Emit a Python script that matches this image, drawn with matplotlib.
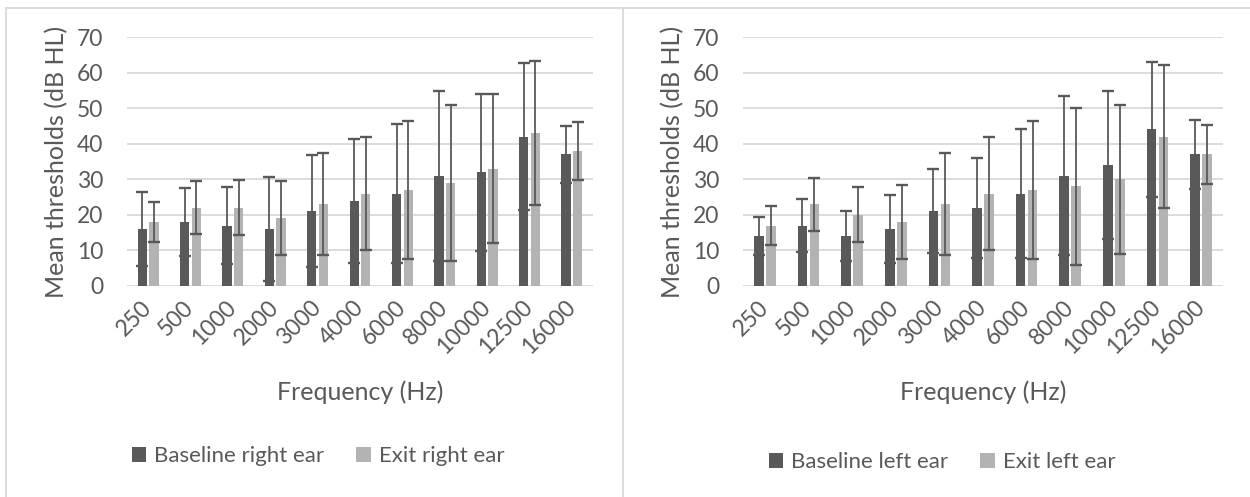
import matplotlib
matplotlib.use("Agg")
import matplotlib.pyplot as plt
import numpy as np
from matplotlib.lines import Line2D

plt.rcParams['font.family'] = ['Lato', 'DejaVu Sans']

freqs = ["250", "500", "1000", "2000", "3000", "4000", "6000", "8000", "10000", "12500", "16000"]

base_right = [16, 18, 17, 16, 21, 24, 26, 31, 32, 42, 37]
base_right_sd = [10.5, 9.5, 10.8, 14.6, 15.7, 17.4, 19.6, 23.9, 22.1, 20.6, 8.0]
exit_right = [18, 22, 22, 19, 23, 26, 27, 29, 33, 43, 38]
exit_right_sd = [5.7, 7.4, 7.8, 10.4, 14.3, 16.0, 19.5, 21.9, 21.0, 20.2, 8.2]

base_left = [14, 17, 14, 16, 21, 22, 26, 31, 34, 44, 37]
base_left_sd = [5.3, 7.5, 7.0, 9.6, 11.8, 14.0, 18.1, 22.4, 20.7, 19.1, 9.6]
exit_left = [17, 23, 20, 18, 23, 26, 27, 28, 30, 42, 37]
exit_left_sd = [5.6, 7.5, 7.7, 10.5, 14.3, 16.0, 19.5, 22.0, 21.0, 20.2, 8.2]

ylabel = "Mean thresholds (dB HL)"
xlabel = "Frequency (Hz)"

DARK = "#595959"
LIGHT = "#b3b3b3"
ERR = "#595959"
GRID = "#d9d9d9"
TXT = "#595959"

W, H = 1250, 497
fig = plt.figure(figsize=(W / 100, H / 100), dpi=100)

def fx(px):
    return px / W

def fy(py):
    return 1 - py / H

panels = [
    dict(left=127, right=593, s1=base_right, e1=base_right_sd, s2=exit_right, e2=exit_right_sd,
         labels=("Baseline right ear", "Exit right ear"), xl=360, leg=(318, 456)),
    dict(left=743, right=1223, s1=base_left, e1=base_left_sd, s2=exit_left, e2=exit_left_sd,
         labels=("Baseline left ear", "Exit left ear"), xl=983, leg=(942, 462)),
]

x = np.arange(len(freqs))
bw = 0.22
off = 0.1375
for p in panels:
    ax = fig.add_axes([fx(p['left']), fy(286), fx(p['right'] - p['left']), (286 - 37) / H])
    b1 = ax.bar(x - off, p['s1'], bw, color=DARK, label=p['labels'][0], zorder=2)
    b2 = ax.bar(x + off, p['s2'], bw, color=LIGHT, label=p['labels'][1], zorder=2)
    ax.errorbar(x - off, p['s1'], yerr=p['e1'], fmt='none', ecolor=ERR, elinewidth=1.3,
                capsize=4.6, capthick=1.7, zorder=3)
    ax.errorbar(x + off, p['s2'], yerr=p['e2'], fmt='none', ecolor=ERR, elinewidth=1.3,
                capsize=4.6, capthick=1.7, zorder=3)
    ax.set_ylim(0, 70)
    ax.set_xlim(-0.5, len(freqs) - 0.5)
    ax.set_yticks(range(0, 71, 10))
    ax.yaxis.grid(True, color=GRID, lw=1.3, zorder=0)
    ax.set_axisbelow(True)
    for s in ax.spines.values():
        s.set_visible(False)
    ax.tick_params(axis='both', length=0, colors=TXT, labelsize=16.5)
    ax.tick_params(axis='y', pad=17)
    ax.set_xticks(x)
    ax.set_xticklabels(freqs, rotation=45, ha='right', va='center', rotation_mode='anchor')
    ax.tick_params(axis='x', pad=13)
    ax.set_ylabel(ylabel, fontsize=18, color=TXT, labelpad=6)
    fig.text(fx(p['xl']), fy(392), xlabel, fontsize=18, color=TXT, ha='center', va='center')
    fig.legend(handles=[b1, b2], loc='center', bbox_to_anchor=(fx(p['leg'][0]), fy(p['leg'][1])),
               ncol=2, frameon=False, fontsize=16, labelcolor=TXT, handlelength=0.65,
               handleheight=0.65, handletextpad=0.35, columnspacing=1.45)

# panel borders
fig.add_artist(Line2D([fx(6), 1], [fy(8), fy(8)], transform=fig.transFigure, color=GRID, lw=1.3))
fig.add_artist(Line2D([fx(6), fx(6)], [fy(8), 0], transform=fig.transFigure, color=GRID, lw=1.3))
fig.add_artist(Line2D([fx(623), fx(623)], [fy(8), 0], transform=fig.transFigure, color=GRID, lw=1.3))

fig.savefig("out.png", dpi=100)
